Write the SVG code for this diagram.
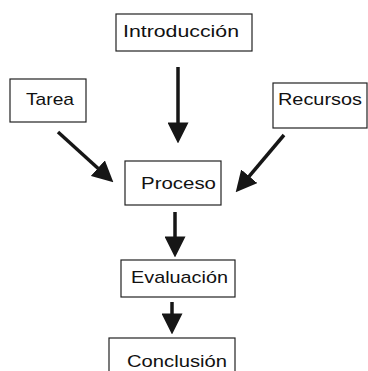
<svg xmlns="http://www.w3.org/2000/svg" width="368" height="371" viewBox="0 0 368 371">
<style>
.box{fill:#fff;stroke:#222;stroke-width:1.2}
.lbl{font-family:"Liberation Sans",Arial,sans-serif;font-size:17px;fill:#111}
.arr{stroke:#161616;stroke-width:3.5;fill:none;marker-end:url(#ah)}
</style>
<defs>
<marker id="ah" markerUnits="userSpaceOnUse" markerWidth="21" markerHeight="21" viewBox="0 0 20 20" refX="0.5" refY="10" orient="auto">
<path d="M0,0 L20,10 L0,20 z" fill="#161616"/>
</marker>
</defs>
<rect width="368" height="371" fill="#fff"/>
<g id="connectors">
<line class="arr" x1="178" y1="67" x2="178" y2="123"/>
<line class="arr" x1="58" y1="132" x2="98.2" y2="168.5"/>
<line class="arr" x1="284" y1="135" x2="248.9" y2="176.7"/>
<line class="arr" x1="175" y1="212" x2="175" y2="237"/>
<line class="arr" x1="172" y1="302" x2="172" y2="314"/>
</g>
<g id="introduccion"><rect class="box" x="116" y="14" width="136" height="37"/><text class="lbl" x="123" y="37" textLength="116" lengthAdjust="spacingAndGlyphs">Introducción</text></g>
<g id="tarea"><rect class="box" x="10" y="79" width="76" height="43"/><text class="lbl" x="26" y="105" textLength="48" lengthAdjust="spacingAndGlyphs">Tarea</text></g>
<g id="recursos"><rect class="box" x="273" y="83" width="94" height="45"/><text class="lbl" x="278" y="105" textLength="84" lengthAdjust="spacingAndGlyphs">Recursos</text></g>
<g id="proceso"><rect class="box" x="125" y="161" width="96" height="44"/><text class="lbl" x="141" y="189" textLength="75" lengthAdjust="spacingAndGlyphs">Proceso</text></g>
<g id="evaluacion"><rect class="box" x="121" y="260" width="114" height="37"/><text class="lbl" x="131" y="283" textLength="97" lengthAdjust="spacingAndGlyphs">Evaluación</text></g>
<g id="conclusion"><rect class="box" x="109" y="338" width="126" height="40"/><text class="lbl" x="127" y="367" textLength="100" lengthAdjust="spacingAndGlyphs">Conclusión</text></g>
</svg>
